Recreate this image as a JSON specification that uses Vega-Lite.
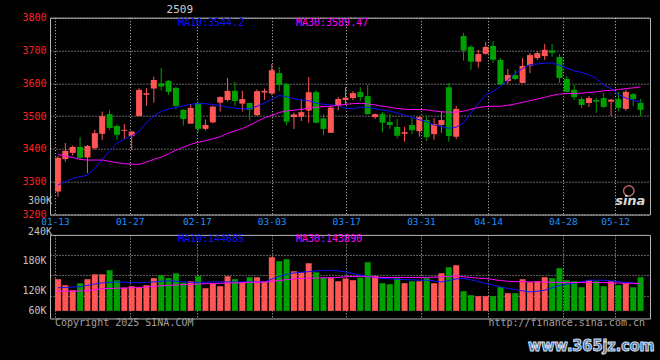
{
  "$schema": "https://vega.github.io/schema/vega-lite/v6.json",
  "background": "#000000",
  "autosize": {"type": "none"},
  "padding": {"left": 50, "top": 17.7, "right": 610, "bottom": 342.3},
  "bounds": "flush",
  "spacing": 20.2,
  "config": {
    "view": {"stroke": "#b4b4b4", "strokeWidth": 1},
    "axis": {"labelFont": "DejaVu Sans Mono", "labelFontSize": 10, "ticks": false, "domain": false, "gridColor": "#c8c8c8", "gridDash": [1, 2], "gridWidth": 1, "gridOpacity": 1},
    "text": {"font": "DejaVu Sans Mono", "fontSize": 10}
  },
  "datasets": {
    "one": [{}],
    "k": [
      {"i":0,"o":3270,"h":3378,"l":3254,"c":3373,"ma10":3290,"ma30":3383,"v":152000,"vma10":127000,"vma30":117000},
      {"i":1,"o":3369,"h":3418,"l":3361,"c":3394,"ma10":3300,"ma30":3378,"v":134500,"vma10":128000,"vma30":117000},
      {"i":2,"o":3388,"h":3410,"l":3380,"c":3406,"ma10":3310,"ma30":3374,"v":120000,"vma10":129000,"vma30":117000},
      {"i":3,"o":3406,"h":3436,"l":3366,"c":3373,"ma10":3315,"ma30":3368,"v":140000,"vma10":130000,"vma30":118000},
      {"i":4,"o":3374,"h":3412,"l":3326,"c":3409,"ma10":3320,"ma30":3366,"v":152000,"vma10":134000,"vma30":118000},
      {"i":5,"o":3402,"h":3458,"l":3399,"c":3448,"ma10":3340,"ma30":3366,"v":166000,"vma10":138000,"vma30":121000},
      {"i":6,"o":3446,"h":3514,"l":3427,"c":3500,"ma10":3368,"ma30":3366,"v":166000,"vma10":141000,"vma30":125000},
      {"i":7,"o":3506,"h":3519,"l":3458,"c":3464,"ma10":3395,"ma30":3362,"v":178000,"vma10":143000,"vma30":125000},
      {"i":8,"o":3470,"h":3475,"l":3427,"c":3443,"ma10":3417,"ma30":3358,"v":149000,"vma10":144000,"vma30":126000},
      {"i":9,"o":3455,"h":3476,"l":3430,"c":3458,"ma10":3430,"ma30":3355,"v":127700,"vma10":143000,"vma30":126000},
      {"i":10,"o":3439,"h":3455,"l":3397,"c":3453,"ma10":3440,"ma30":3353,"v":131600,"vma10":142000,"vma30":127000},
      {"i":11,"o":3500,"h":3585,"l":3500,"c":3580,"ma10":3453,"ma30":3353,"v":127700,"vma10":142000,"vma30":128000},
      {"i":12,"o":3565,"h":3585,"l":3532,"c":3570,"ma10":3480,"ma30":3360,"v":134500,"vma10":143000,"vma30":130000},
      {"i":13,"o":3584,"h":3620,"l":3541,"c":3610,"ma10":3500,"ma30":3368,"v":155000,"vma10":144000,"vma30":131000},
      {"i":14,"o":3600,"h":3647,"l":3578,"c":3590,"ma10":3514,"ma30":3375,"v":163500,"vma10":146000,"vma30":133000},
      {"i":15,"o":3607,"h":3610,"l":3565,"c":3574,"ma10":3522,"ma30":3385,"v":155000,"vma10":147000,"vma30":134000},
      {"i":16,"o":3586,"h":3590,"l":3521,"c":3531,"ma10":3526,"ma30":3396,"v":169000,"vma10":146000,"vma30":135000},
      {"i":17,"o":3519,"h":3521,"l":3471,"c":3491,"ma10":3531,"ma30":3405,"v":142000,"vma10":144000,"vma30":136000},
      {"i":18,"o":3477,"h":3537,"l":3477,"c":3525,"ma10":3536,"ma30":3414,"v":146000,"vma10":143000,"vma30":137000},
      {"i":19,"o":3539,"h":3544,"l":3450,"c":3461,"ma10":3538,"ma30":3420,"v":160600,"vma10":143000,"vma30":138000},
      {"i":20,"o":3461,"h":3490,"l":3456,"c":3473,"ma10":3538,"ma30":3425,"v":125800,"vma10":143000,"vma30":139000},
      {"i":21,"o":3481,"h":3531,"l":3478,"c":3529,"ma10":3535,"ma30":3431,"v":140000,"vma10":144000,"vma30":139000},
      {"i":22,"o":3541,"h":3560,"l":3514,"c":3558,"ma10":3532,"ma30":3437,"v":131600,"vma10":144000,"vma30":140000},
      {"i":23,"o":3549,"h":3616,"l":3545,"c":3577,"ma10":3527,"ma30":3447,"v":160600,"vma10":144000,"vma30":141000},
      {"i":24,"o":3577,"h":3604,"l":3531,"c":3546,"ma10":3524,"ma30":3455,"v":152000,"vma10":144000,"vma30":141000},
      {"i":25,"o":3538,"h":3577,"l":3514,"c":3552,"ma10":3522,"ma30":3462,"v":142000,"vma10":144000,"vma30":142000},
      {"i":26,"o":3540,"h":3541,"l":3486,"c":3519,"ma10":3522,"ma30":3472,"v":157700,"vma10":144000,"vma30":143000},
      {"i":27,"o":3503,"h":3582,"l":3500,"c":3576,"ma10":3530,"ma30":3484,"v":157700,"vma10":144000,"vma30":143000},
      {"i":28,"o":3572,"h":3584,"l":3549,"c":3577,"ma10":3540,"ma30":3495,"v":146000,"vma10":144000,"vma30":144000},
      {"i":29,"o":3569,"h":3659,"l":3564,"c":3640,"ma10":3551,"ma30":3502,"v":215700,"vma10":152000,"vma30":146000},
      {"i":30,"o":3631,"h":3649,"l":3576,"c":3595,"ma10":3563,"ma30":3511,"v":204000,"vma10":160000,"vma30":148000},
      {"i":31,"o":3598,"h":3600,"l":3473,"c":3483,"ma10":3559,"ma30":3516,"v":210000,"vma10":166000,"vma30":151000},
      {"i":32,"o":3497,"h":3511,"l":3461,"c":3505,"ma10":3553,"ma30":3518,"v":175000,"vma10":170000,"vma30":153000},
      {"i":33,"o":3498,"h":3552,"l":3485,"c":3512,"ma10":3549,"ma30":3521,"v":172000,"vma10":172000,"vma30":154000},
      {"i":34,"o":3517,"h":3619,"l":3480,"c":3573,"ma10":3547,"ma30":3524,"v":198000,"vma10":174000,"vma30":155000},
      {"i":35,"o":3573,"h":3579,"l":3478,"c":3480,"ma10":3540,"ma30":3527,"v":172000,"vma10":176000,"vma30":155000},
      {"i":36,"o":3493,"h":3505,"l":3442,"c":3461,"ma10":3536,"ma30":3529,"v":156700,"vma10":177000,"vma30":156000},
      {"i":37,"o":3449,"h":3532,"l":3449,"c":3526,"ma10":3534,"ma30":3530,"v":156700,"vma10":178000,"vma30":156000},
      {"i":38,"o":3532,"h":3558,"l":3518,"c":3552,"ma10":3532,"ma30":3533,"v":146000,"vma10":176000,"vma30":157000},
      {"i":39,"o":3549,"h":3588,"l":3534,"c":3556,"ma10":3524,"ma30":3536,"v":153800,"vma10":173000,"vma30":159000},
      {"i":40,"o":3555,"h":3576,"l":3549,"c":3570,"ma10":3522,"ma30":3538,"v":149000,"vma10":168000,"vma30":160000},
      {"i":41,"o":3573,"h":3588,"l":3546,"c":3558,"ma10":3527,"ma30":3539,"v":156700,"vma10":164000,"vma30":160000},
      {"i":42,"o":3561,"h":3595,"l":3504,"c":3506,"ma10":3527,"ma30":3537,"v":201200,"vma10":160000,"vma30":159000},
      {"i":43,"o":3497,"h":3508,"l":3491,"c":3506,"ma10":3523,"ma30":3534,"v":161600,"vma10":157000,"vma30":158000},
      {"i":44,"o":3506,"h":3512,"l":3451,"c":3480,"ma10":3519,"ma30":3530,"v":140300,"vma10":154000,"vma30":157000},
      {"i":45,"o":3482,"h":3506,"l":3461,"c":3473,"ma10":3515,"ma30":3527,"v":137400,"vma10":153000,"vma30":157000},
      {"i":46,"o":3467,"h":3491,"l":3432,"c":3440,"ma10":3510,"ma30":3523,"v":154800,"vma10":152000,"vma30":157000},
      {"i":47,"o":3446,"h":3467,"l":3422,"c":3451,"ma10":3502,"ma30":3521,"v":140300,"vma10":151000,"vma30":157000},
      {"i":48,"o":3473,"h":3495,"l":3445,"c":3457,"ma10":3496,"ma30":3520,"v":146000,"vma10":150000,"vma30":157000},
      {"i":49,"o":3454,"h":3500,"l":3437,"c":3497,"ma10":3489,"ma30":3520,"v":146000,"vma10":149000,"vma30":157000},
      {"i":50,"o":3488,"h":3500,"l":3424,"c":3436,"ma10":3483,"ma30":3519,"v":154800,"vma10":149000,"vma30":157000},
      {"i":51,"o":3445,"h":3494,"l":3428,"c":3476,"ma10":3473,"ma30":3516,"v":140300,"vma10":147000,"vma30":158000},
      {"i":52,"o":3473,"h":3515,"l":3449,"c":3488,"ma10":3468,"ma30":3513,"v":169300,"vma10":144000,"vma30":159000},
      {"i":53,"o":3588,"h":3601,"l":3422,"c":3439,"ma10":3463,"ma30":3512,"v":186700,"vma10":148000,"vma30":160000},
      {"i":54,"o":3437,"h":3531,"l":3430,"c":3522,"ma10":3466,"ma30":3512,"v":192500,"vma10":153000,"vma30":161000},
      {"i":55,"o":3744,"h":3754,"l":3669,"c":3700,"ma10":3480,"ma30":3515,"v":117100,"vma10":154000,"vma30":159000},
      {"i":56,"o":3711,"h":3717,"l":3641,"c":3666,"ma10":3510,"ma30":3521,"v":105500,"vma10":150000,"vma30":157000},
      {"i":57,"o":3666,"h":3702,"l":3648,"c":3689,"ma10":3538,"ma30":3526,"v":102600,"vma10":145000,"vma30":155000},
      {"i":58,"o":3690,"h":3726,"l":3687,"c":3711,"ma10":3565,"ma30":3529,"v":102600,"vma10":140000,"vma30":154000},
      {"i":59,"o":3714,"h":3729,"l":3663,"c":3672,"ma10":3575,"ma30":3530,"v":102600,"vma10":135000,"vma30":151000},
      {"i":60,"o":3671,"h":3677,"l":3596,"c":3596,"ma10":3591,"ma30":3530,"v":128700,"vma10":130000,"vma30":148000},
      {"i":61,"o":3607,"h":3644,"l":3598,"c":3625,"ma10":3610,"ma30":3533,"v":111300,"vma10":125000,"vma30":146000},
      {"i":62,"o":3625,"h":3641,"l":3610,"c":3613,"ma10":3630,"ma30":3537,"v":111300,"vma10":122000,"vma30":145000},
      {"i":63,"o":3601,"h":3677,"l":3601,"c":3653,"ma10":3645,"ma30":3542,"v":151900,"vma10":118000,"vma30":145000},
      {"i":64,"o":3654,"h":3692,"l":3631,"c":3686,"ma10":3657,"ma30":3547,"v":143200,"vma10":115000,"vma30":144000},
      {"i":65,"o":3677,"h":3697,"l":3671,"c":3692,"ma10":3659,"ma30":3552,"v":146000,"vma10":117000,"vma30":144000},
      {"i":66,"o":3683,"h":3720,"l":3671,"c":3702,"ma10":3661,"ma30":3557,"v":157700,"vma10":120000,"vma30":144000},
      {"i":67,"o":3700,"h":3720,"l":3681,"c":3693,"ma10":3662,"ma30":3563,"v":154800,"vma10":127000,"vma30":143000},
      {"i":68,"o":3680,"h":3689,"l":3601,"c":3616,"ma10":3655,"ma30":3567,"v":183800,"vma10":134000,"vma30":143000},
      {"i":69,"o":3613,"h":3622,"l":3572,"c":3574,"ma10":3646,"ma30":3569,"v":149000,"vma10":138000,"vma30":142000},
      {"i":70,"o":3580,"h":3595,"l":3549,"c":3558,"ma10":3638,"ma30":3569,"v":146000,"vma10":141000,"vma30":142000},
      {"i":71,"o":3552,"h":3558,"l":3525,"c":3534,"ma10":3633,"ma30":3570,"v":128700,"vma10":144000,"vma30":142000},
      {"i":72,"o":3540,"h":3561,"l":3528,"c":3555,"ma10":3626,"ma30":3572,"v":149000,"vma10":149000,"vma30":142000},
      {"i":73,"o":3549,"h":3555,"l":3510,"c":3544,"ma10":3614,"ma30":3574,"v":146000,"vma10":149000,"vma30":142000},
      {"i":74,"o":3555,"h":3570,"l":3525,"c":3528,"ma10":3595,"ma30":3577,"v":131600,"vma10":149000,"vma30":142000},
      {"i":75,"o":3544,"h":3552,"l":3500,"c":3550,"ma10":3584,"ma30":3579,"v":146000,"vma10":147000,"vma30":141000},
      {"i":76,"o":3552,"h":3574,"l":3516,"c":3525,"ma10":3566,"ma30":3581,"v":134500,"vma10":145000,"vma30":141000},
      {"i":77,"o":3522,"h":3580,"l":3516,"c":3574,"ma10":3555,"ma30":3584,"v":140300,"vma10":142000,"vma30":140000},
      {"i":78,"o":3567,"h":3570,"l":3531,"c":3552,"ma10":3548,"ma30":3586,"v":128700,"vma10":141000,"vma30":140000},
      {"i":79,"o":3540,"h":3552,"l":3500,"c":3519,"ma10":3544,"ma30":3589,"v":157700,"vma10":139000,"vma30":139000}
    ]
  },
  "vconcat": [
    {
      "width": 600,
      "height": 196.8,
      "data": {"name": "k"},
      "resolve": {"axis": {"x": "independent", "y": "independent"}},
      "layer": [
        {
          "mark": {"type": "rule", "strokeWidth": 1},
          "encoding": {
            "x": {"field": "i", "type": "quantitative", "scale": {"domain": [-0.4, 79.6], "nice": false, "zero": false},
              "axis": {"title": null, "values": [-0.4, 9.727, 18.841, 28.967, 39.094, 49.22, 58.334, 68.461, 75.549],
                "labelExpr": "datum.value < 0 ? '01-13' : datum.value < 10 ? '01-27' : datum.value < 19 ? '02-17' : datum.value < 29 ? '03-03' : datum.value < 40 ? '03-17' : datum.value < 50 ? '03-31' : datum.value < 59 ? '04-14' : datum.value < 69 ? '04-28' : '05-12'",
                "grid": true, "labelColor": "#1e90ff", "labelFontSize": 9.5, "labelPadding": 2, "labelFlush": false, "labelOverlap": false}},
            "y": {"field": "l", "type": "quantitative", "scale": {"domain": [3200, 3800], "nice": false, "zero": false},
              "axis": {"title": null, "values": [3200, 3300, 3400, 3500, 3600, 3700, 3800], "format": "d", "grid": true, "labelColor": "#ff2020", "labelPadding": 4, "labelFlush": false, "labelOverlap": false}},
            "y2": {"field": "h"},
            "color": {"condition": {"test": "datum.c >= datum.o", "value": "#ff5555"}, "value": "#00a000"}
          }
        },
        {
          "mark": {"type": "bar", "width": 6},
          "encoding": {
            "x": {"field": "i", "type": "quantitative", "axis": null},
            "y": {"field": "o", "type": "quantitative", "axis": null},
            "y2": {"field": "c"},
            "color": {"condition": {"test": "datum.c >= datum.o", "value": "#ff5555"}, "value": "#00a000"}
          }
        },
        {
          "mark": {"type": "line", "color": "#1010ff", "strokeWidth": 1},
          "encoding": {"x": {"field": "i", "type": "quantitative", "axis": null}, "y": {"field": "ma10", "type": "quantitative", "axis": null}}
        },
        {
          "mark": {"type": "line", "color": "#ff00ff", "strokeWidth": 1},
          "encoding": {"x": {"field": "i", "type": "quantitative", "axis": null}, "y": {"field": "ma30", "type": "quantitative", "axis": null}}
        },
        {
          "data": {"name": "one"},
          "mark": {"type": "text", "text": "2509", "color": "#d0d0d0", "fontSize": 11, "align": "center", "baseline": "middle"},
          "encoding": {"x": {"datum": 16.53, "type": "quantitative", "axis": null}, "y": {"datum": 3822, "type": "quantitative", "axis": null}}
        },
        {
          "data": {"name": "one"},
          "mark": {"type": "text", "text": "MA10:3544.2", "color": "#1010ff", "align": "left", "baseline": "middle"},
          "encoding": {"x": {"datum": 16.27, "type": "quantitative", "axis": null}, "y": {"datum": 3783, "type": "quantitative", "axis": null}}
        },
        {
          "data": {"name": "one"},
          "mark": {"type": "text", "text": "MA30:3589.47", "color": "#ff00ff", "align": "left", "baseline": "middle"},
          "encoding": {"x": {"datum": 32.27, "type": "quantitative", "axis": null}, "y": {"datum": 3783, "type": "quantitative", "axis": null}}
        },
        {
          "data": {"name": "one"},
          "mark": {"type": "point", "shape": "circle", "filled": false, "size": 110, "stroke": "#ff9090", "strokeWidth": 1.5},
          "encoding": {"x": {"datum": 77.4, "type": "quantitative", "axis": null}, "y": {"datum": 3272, "type": "quantitative", "axis": null}}
        },
        {
          "data": {"name": "one"},
          "mark": {"type": "text", "text": "sina", "color": "#d8d8d8", "font": "DejaVu Sans", "fontSize": 13, "fontWeight": "bold", "fontStyle": "italic", "align": "center", "baseline": "middle"},
          "encoding": {"x": {"datum": 77.6, "type": "quantitative", "axis": null}, "y": {"datum": 3240, "type": "quantitative", "axis": null}}
        }
      ]
    },
    {
      "width": 600,
      "height": 83.6,
      "data": {"name": "k"},
      "resolve": {"axis": {"x": "independent", "y": "independent"}},
      "layer": [
        {
          "mark": {"type": "bar", "width": 6},
          "encoding": {
            "x": {"field": "i", "type": "quantitative", "scale": {"domain": [-0.4, 79.6], "nice": false, "zero": false},
              "axis": {"title": null, "values": [-0.4, 9.727, 18.841, 28.967, 39.094, 49.22, 58.334, 68.461, 75.549], "grid": true, "labels": false}},
            "y": {"field": "v", "type": "quantitative", "scale": {"domain": [38000, 280400], "nice": false, "zero": false},
              "axis": {"title": null, "orient": "left", "values": [60000, 120000, 205000], "grid": false, "labelColor": "#c0c0c0", "labelPadding": 4, "labelFlush": false, "labelOverlap": false,
                "labelExpr": "datum.value > 180000 ? '180K' : datum.value > 100000 ? '120K' : '60K'"}},
            "y2": {"datum": 60000},
            "color": {"condition": {"test": "datum.c >= datum.o", "value": "#ff5555"}, "value": "#00a000"}
          }
        },
        {
          "mark": {"type": "line", "color": "#1010ff", "strokeWidth": 1},
          "encoding": {"x": {"field": "i", "type": "quantitative", "axis": null},
            "y": {"field": "vma10", "type": "quantitative", "axis": {"title": null, "orient": "left", "values": [103500, 163500, 221500], "grid": true, "labels": false, "minExtent": 0}}}
        },
        {
          "mark": {"type": "line", "color": "#ff00ff", "strokeWidth": 1},
          "encoding": {"x": {"field": "i", "type": "quantitative", "axis": null}, "y": {"field": "vma30", "type": "quantitative", "axis": null}}
        },
        {
          "data": {"name": "one"},
          "mark": {"type": "text", "text": "300K", "color": "#c0c0c0", "align": "right", "baseline": "middle"},
          "encoding": {"x": {"datum": -0.8, "type": "quantitative", "axis": null}, "y": {"datum": 379000, "type": "quantitative", "axis": null}}
        },
        {
          "data": {"name": "one"},
          "mark": {"type": "text", "text": "240K", "color": "#c0c0c0", "align": "right", "baseline": "middle"},
          "encoding": {"x": {"datum": -0.8, "type": "quantitative", "axis": null}, "y": {"datum": 288200, "type": "quantitative", "axis": null}}
        },
        {
          "data": {"name": "one"},
          "mark": {"type": "text", "text": "MA10:144685", "color": "#1010ff", "align": "left", "baseline": "middle"},
          "encoding": {"x": {"datum": 16.27, "type": "quantitative", "axis": null}, "y": {"datum": 268000, "type": "quantitative", "axis": null}}
        },
        {
          "data": {"name": "one"},
          "mark": {"type": "text", "text": "MA30:143890", "color": "#ff00ff", "align": "left", "baseline": "middle"},
          "encoding": {"x": {"datum": 32.27, "type": "quantitative", "axis": null}, "y": {"datum": 268000, "type": "quantitative", "axis": null}}
        },
        {
          "data": {"name": "one"},
          "mark": {"type": "text", "text": "Copyright 2025 SINA.COM", "color": "#a0a0a0", "align": "left", "baseline": "middle"},
          "encoding": {"x": {"datum": -0.4, "type": "quantitative", "axis": null}, "y": {"datum": 24300, "type": "quantitative", "axis": null}}
        },
        {
          "data": {"name": "one"},
          "mark": {"type": "text", "text": "http://finance.sina.com.cn", "color": "#a0a0a0", "align": "right", "baseline": "middle"},
          "encoding": {"x": {"datum": 79.6, "type": "quantitative", "axis": null}, "y": {"datum": 24300, "type": "quantitative", "axis": null}}
        },
        {
          "data": {"name": "one"},
          "mark": {"type": "text", "text": "www.365jz.com", "font": "DejaVu Sans Condensed", "fontSize": 16, "fontWeight": "bold", "color": "#3a6aab", "stroke": "#d8e0ee", "strokeWidth": 1, "align": "right", "baseline": "middle"},
          "encoding": {"x": {"datum": 80.9, "type": "quantitative", "axis": null}, "y": {"datum": -42400, "type": "quantitative", "axis": null}}
        }
      ]
    }
  ]
}
